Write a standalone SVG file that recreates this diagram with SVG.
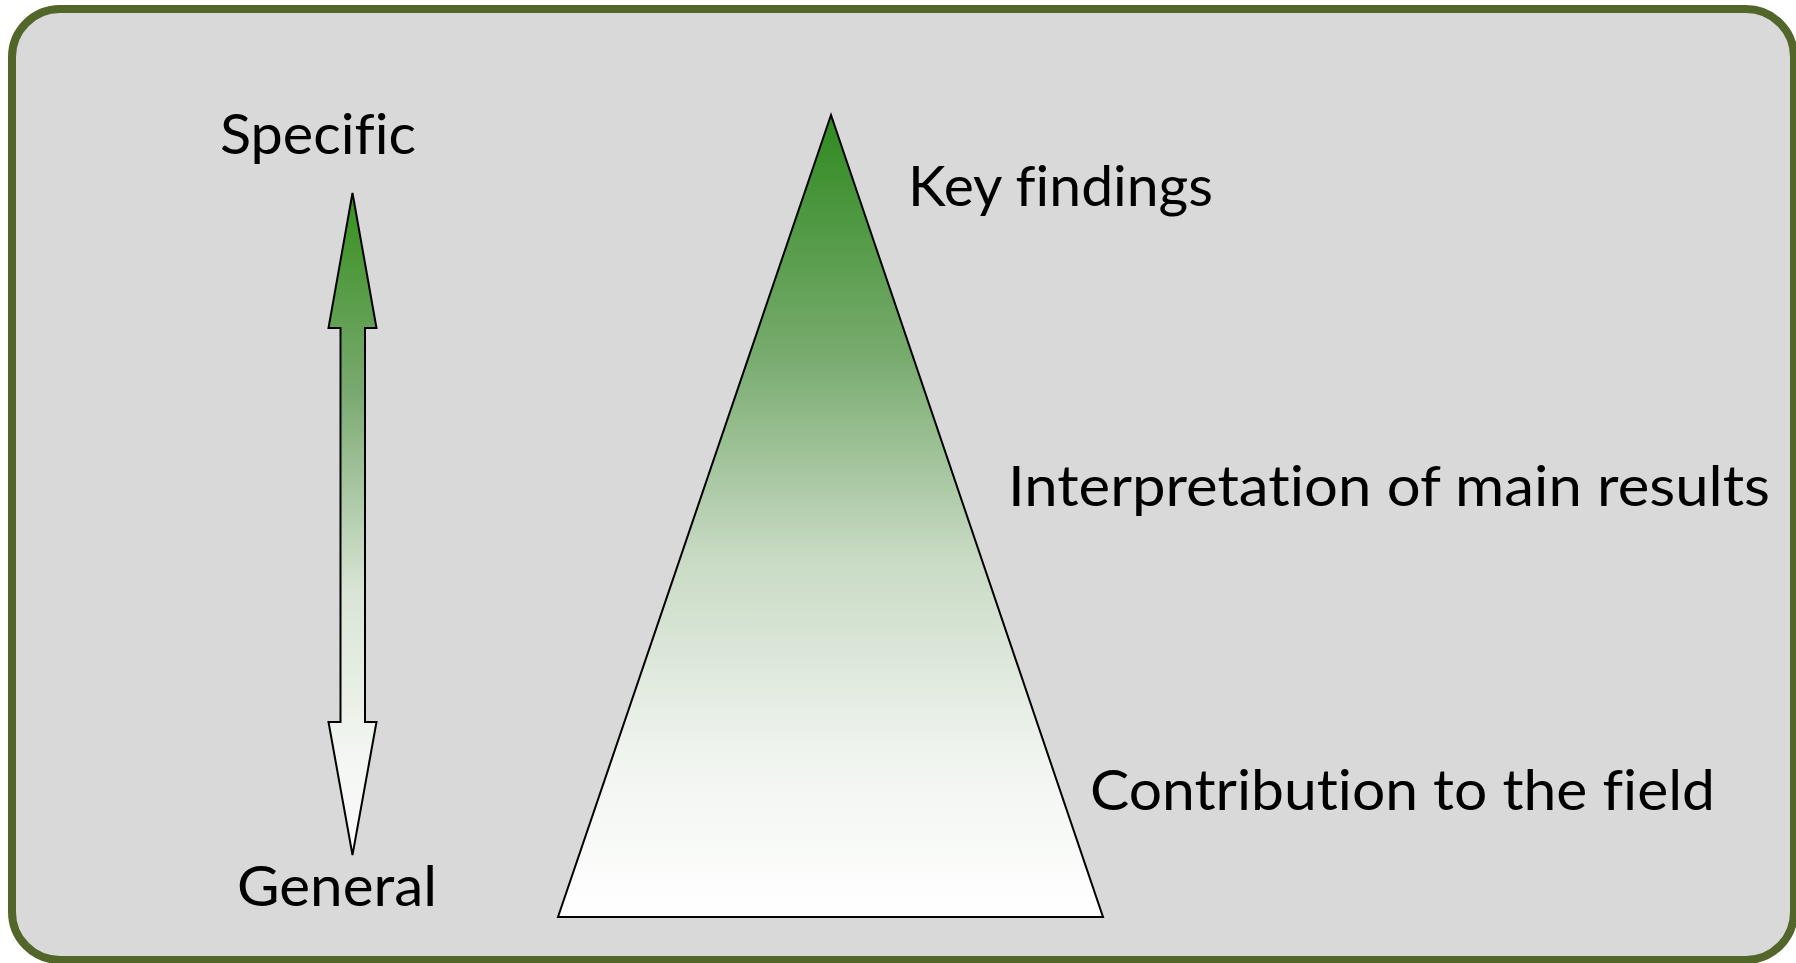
<svg xmlns="http://www.w3.org/2000/svg" width="1796" height="963" viewBox="0 0 1796 963">
<defs>
<linearGradient id="triGrad" x1="0" y1="0" x2="0" y2="1">
<stop offset="0" stop-color="#2f8a20"/>
<stop offset="0.3" stop-color="#78ab6e"/>
<stop offset="0.55" stop-color="#c8dac4"/>
<stop offset="0.8" stop-color="#f0f4ef"/>
<stop offset="1" stop-color="#ffffff"/>
</linearGradient>
<linearGradient id="arrGrad" x1="0" y1="0" x2="0" y2="1">
<stop offset="0" stop-color="#36901f"/>
<stop offset="0.3" stop-color="#79a96f"/>
<stop offset="0.6" stop-color="#d8e4d5"/>
<stop offset="0.85" stop-color="#f3f6f2"/>
<stop offset="1" stop-color="#fbfbfb"/>
</linearGradient>
<style>
.lbl{font-family:Lato,"Open Sans","Liberation Sans",sans-serif;font-size:57px;fill:#000;font-variant-ligatures:none;font-feature-settings:"liga" 0}
.shape{stroke:#000;stroke-width:2;stroke-linejoin:miter}
</style>
</defs>
<rect id="frame" x="12" y="9" width="1782" height="951" rx="48" ry="48" fill="#d9d9d9" stroke="#536629" stroke-width="8"/>
<g id="connectors">
<polygon id="scale-arrow" class="shape" fill="url(#arrGrad)" points="352.5,193 376.5,328 365,328 365,722 376.5,722 352.5,855 328.5,722 340.5,722 340.5,328 328.5,328"/>
</g>
<g id="node-specific"><text class="lbl" x="220" y="154" textLength="196" lengthAdjust="spacingAndGlyphs">Specific</text></g>
<g id="node-general"><text class="lbl" x="237" y="906" textLength="200" lengthAdjust="spacingAndGlyphs">General</text></g>
<g id="node-triangle"><polygon class="shape" fill="url(#triGrad)" points="831,115 1103,917 558,917"/></g>
<g id="node-key"><text class="lbl" x="908" y="206" textLength="305" lengthAdjust="spacingAndGlyphs">Key findings</text></g>
<g id="node-interp"><text class="lbl" x="1008" y="506" textLength="762" lengthAdjust="spacingAndGlyphs">Interpretation of main results</text></g>
<g id="node-contrib"><text class="lbl" x="1090" y="810" textLength="625" lengthAdjust="spacingAndGlyphs">Contribution to the field</text></g>
</svg>
